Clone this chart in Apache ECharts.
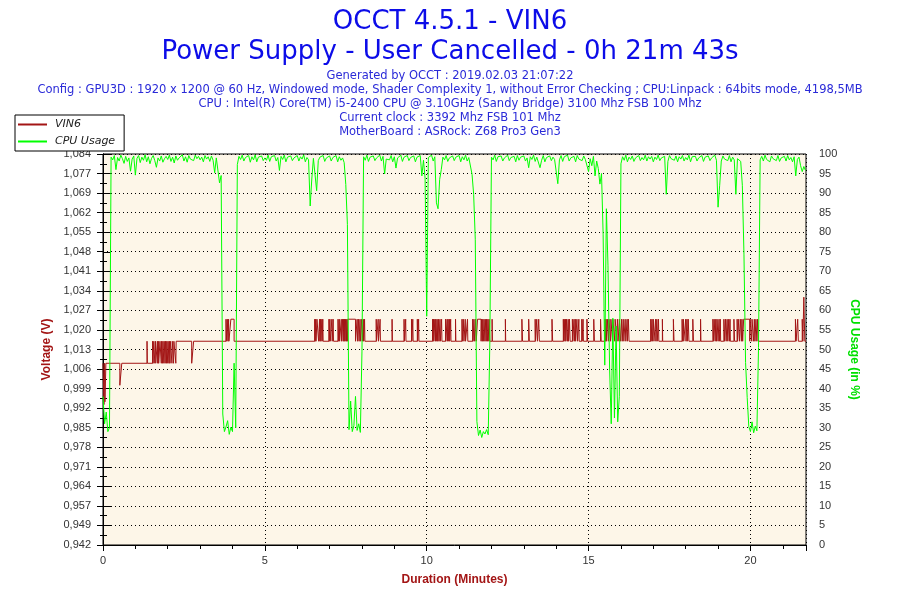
<!DOCTYPE html>
<html>
<head>
<meta charset="utf-8">
<script src="https://cdn.jsdelivr.net/npm/echarts@6/dist/echarts.min.js"></script>
<style>
html,body{margin:0;padding:0;background:#ffffff;}
#chart{width:900px;height:600px;}
</style>
</head>
<body>
<div id="chart"></div>
<script>
// ---------- texts ----------
const titleText = 'OCCT 4.5.1 - VIN6';
const subTitleText = 'Power Supply - User Cancelled - 0h 21m 43s';
const infoLines = [
  'Generated by OCCT : 2019.02.03 21:07:22',
  'Config : GPU3D : 1920 x 1200 @ 60 Hz, Windowed mode, Shader Complexity 1, without Error Checking ; CPU:Linpack : 64bits mode, 4198,5MB',
  'CPU : Intel(R) Core(TM) i5-2400 CPU @ 3.10GHz (Sandy Bridge) 3100 Mhz FSB 100 Mhz',
  'Current clock : 3392 Mhz FSB 101 Mhz',
  'MotherBoard : ASRock: Z68 Pro3 Gen3'
];
const seriesNames = ['VIN6', 'CPU Usage'];
const xAxisName = 'Duration (Minutes)';
const voltAxisName = 'Voltage (V)';
const cpuAxisName = 'CPU Usage (in %)';

// ---------- axes ----------
const durationMinutes = 21.7167;
const timeTickLabels = ['0', '5', '10', '15', '20'];
const voltMin = 0.942;
const voltMax = 1.084;
const voltTickLabels = ['0,942','0,949','0,957','0,964','0,971','0,978','0,985','0,992','0,999','1,006',
  '1,013','1,020','1,027','1,034','1,041','1,048','1,055','1,062','1,069','1,077','1,084'];
const cpuMin = 0;
const cpuMax = 100;

// ---------- VIN6: [minute, volts] change points ----------
const voltage = [
  [0,1.008],[0.03,0.993],[0.05,1.008],[0.06,0.994],[0.09,1.008],
  [0.52,1.000],[0.58,1.008],
  [1.36,1.016],[1.37,1.008],[1.53,1.016],[1.54,1.008],[1.57,1.016],[1.58,1.008],[1.62,1.016],[1.63,1.008],
  [1.68,1.016],[1.69,1.008],[1.71,1.016],[1.72,1.008],
  [1.76,1.016],[1.80,1.008],[1.81,1.016],[1.84,1.008],[1.85,1.016],[1.88,1.008],[1.89,1.016],[1.92,1.008],
  [1.93,1.016],[1.96,1.008],[1.97,1.016],[2.00,1.008],[2.01,1.016],[2.04,1.008],[2.05,1.016],[2.07,1.008],
  [2.08,1.016],[2.13,1.008],[2.14,1.016],[2.18,1.008],[2.19,1.016],[2.25,1.008],[2.26,1.016],
  [2.74,1.008],[2.80,1.016],
  [3.80,1.024],[3.81,1.016],[3.84,1.024],[3.86,1.016],[3.88,1.024],[3.89,1.016],[3.95,1.024],[4.05,1.016],
  [6.54,1.024],[6.55,1.016],[6.57,1.024],[6.58,1.016],[6.61,1.024],[6.66,1.016],[6.69,1.024],[6.70,1.016],
  [6.72,1.024],[6.73,1.016],[6.76,1.024],[6.77,1.016],[6.79,1.024],[6.80,1.016],
  [6.98,1.024],[6.99,1.016],[7.01,1.024],[7.02,1.016],[7.07,1.024],[7.08,1.016],[7.11,1.024],[7.12,1.016],
  [7.26,1.024],[7.27,1.016],[7.30,1.024],[7.31,1.016],[7.36,1.024],[7.37,1.016],
  [7.40,1.024],[7.42,1.016],[7.43,1.024],[7.45,1.016],[7.46,1.024],[7.48,1.016],[7.49,1.024],[7.52,1.016],
  [7.53,1.024],[7.55,1.016],[7.56,1.024],[7.80,1.016],
  [7.85,1.024],[7.86,1.016],[7.89,1.024],[7.91,1.016],[7.94,1.024],[7.95,1.016],[7.99,1.024],[8.01,1.016],
  [8.04,1.024],[8.05,1.016],[8.08,1.024],[8.09,1.016],
  [8.44,1.024],[8.45,1.016],[8.50,1.024],[8.51,1.016],[8.56,1.024],[8.57,1.016],
  [8.93,1.024],[8.94,1.016],
  [9.30,1.024],[9.31,1.016],[9.35,1.024],[9.36,1.016],
  [9.53,1.024],[9.54,1.016],[9.57,1.024],[9.58,1.016],
  [9.71,1.024],[9.72,1.016],[9.75,1.024],[9.76,1.016],
  [10.18,1.024],[10.19,1.016],[10.21,1.024],[10.22,1.016],[10.25,1.024],[10.27,1.016],[10.28,1.024],[10.31,1.016],
  [10.32,1.024],[10.34,1.016],[10.36,1.024],[10.38,1.016],[10.41,1.024],[10.42,1.016],[10.46,1.024],[10.47,1.016],
  [10.58,1.024],[10.59,1.016],[10.63,1.024],[10.64,1.016],[10.66,1.024],[10.68,1.016],[10.70,1.024],[10.71,1.016],
  [10.74,1.024],[10.75,1.016],[10.89,1.024],[10.90,1.016],
  [11.09,1.024],[11.10,1.016],[11.13,1.024],[11.15,1.016],[11.19,1.024],[11.20,1.016],[11.26,1.024],[11.27,1.016],
  [11.42,1.024],[11.43,1.016],[11.46,1.024],[11.48,1.016],[11.51,1.024],[11.53,1.016],
  [11.57,1.024],[11.68,1.016],[11.69,1.024],[11.72,1.016],[11.73,1.024],[11.76,1.016],[11.77,1.024],[11.80,1.016],
  [11.81,1.024],[11.84,1.016],[11.85,1.024],[11.88,1.016],[11.89,1.024],[11.92,1.016],[11.93,1.024],[11.95,1.016],
  [12.02,1.024],[12.03,1.016],
  [12.43,1.024],[12.44,1.016],
  [12.94,1.024],[12.96,1.016],
  [13.15,1.024],[13.17,1.016],
  [13.35,1.024],[13.36,1.016],[13.40,1.024],[13.42,1.016],[13.46,1.024],[13.48,1.016],
  [13.87,1.024],[13.89,1.016],
  [14.22,1.024],[14.23,1.016],[14.25,1.024],[14.27,1.016],[14.29,1.024],[14.30,1.016],[14.32,1.024],[14.35,1.016],
  [14.37,1.024],[14.38,1.016],[14.41,1.024],[14.43,1.016],
  [14.50,1.024],[14.51,1.016],[14.55,1.024],[14.56,1.016],[14.59,1.024],[14.60,1.016],[14.64,1.024],[14.66,1.016],
  [14.70,1.024],[14.71,1.016],[14.79,1.024],[14.80,1.016],[14.83,1.024],[14.84,1.016],
  [14.95,1.024],[14.97,1.016],
  [15.16,1.024],[15.18,1.016],
  [15.37,1.024],[15.39,1.016],
  [15.51,1.024],[15.52,1.016],[15.54,1.024],[15.56,1.016],[15.58,1.024],[15.62,1.016],[15.63,1.024],[15.68,1.016],
  [15.69,1.024],[15.74,1.016],[15.75,1.024],[15.81,1.016],[15.82,1.024],[15.88,1.016],[15.89,1.024],[15.94,1.016],
  [15.95,1.024],[15.99,1.016],[16.02,1.024],[16.04,1.016],[16.07,1.024],[16.09,1.016],[16.13,1.024],[16.15,1.016],
  [16.19,1.024],[16.20,1.016],[16.23,1.024],[16.25,1.016],
  [16.92,1.024],[16.93,1.016],[16.96,1.024],[16.97,1.016],[17.00,1.024],[17.02,1.016],
  [17.07,1.024],[17.08,1.016],[17.11,1.024],[17.12,1.016],[17.16,1.024],[17.17,1.016],
  [17.28,1.024],[17.29,1.016],
  [17.62,1.024],[17.64,1.016],
  [17.89,1.024],[17.90,1.016],[17.93,1.024],[17.94,1.016],
  [18.00,1.024],[18.01,1.016],[18.04,1.024],[18.05,1.016],[18.08,1.024],[18.10,1.016],
  [18.22,1.024],[18.24,1.016],[18.46,1.024],[18.47,1.016],
  [18.84,1.024],[18.86,1.016],[18.88,1.024],[18.91,1.016],[18.93,1.024],[18.95,1.016],[18.97,1.024],[19.00,1.016],
  [19.03,1.024],[19.04,1.016],[19.07,1.024],[19.08,1.016],[19.18,1.024],[19.20,1.016],[19.23,1.024],[19.25,1.016],
  [19.28,1.024],[19.30,1.016],[19.33,1.024],[19.35,1.016],[19.37,1.024],[19.38,1.016],
  [19.49,1.024],[19.51,1.016],[19.59,1.024],[19.60,1.016],
  [19.64,1.024],[19.66,1.016],[19.70,1.024],[19.72,1.016],[19.74,1.024],[19.76,1.016],
  [19.79,1.024],[19.98,1.016],[19.99,1.024],[20.04,1.016],[20.05,1.024],[20.10,1.016],[20.12,1.024],[20.14,1.016],
  [20.17,1.024],[20.20,1.016],[20.22,1.024],[20.25,1.016],
  [21.39,1.024],[21.41,1.016],[21.46,1.024],[21.48,1.016],
  [21.60,1.024],[21.62,1.016],[21.65,1.032],[21.68,1.016],[21.7167,1.016]
];

// ---------- CPU usage (%), one sample every 0.05 minute ----------
const cpuSampleMinutes = 0.05;
const cpuUsage = [
  38,31,34,29,30,99.2,98.5,99.6,96.0,99.1,98.2,99.7,98.8,97.6,99.4,98.1,99.0,95.6,98.7,99.5,
  94.6,98.9,99.6,97.8,99.2,98.4,99.8,98.0,99.3,97.5,98.9,99.6,98.3,96.6,99.0,98.2,99.5,97.9,98.8,99.4,
  98.6,99.7,98.1,99.2,97.7,99.5,98.4,99.0,98.9,99.8,98.2,99.3,97.9,99.6,98.7,99.1,98.3,99.7,98.8,99.4,
  98.5,99.2,98.0,99.6,98.7,99.3,98.1,99.5,98.4,95.2,99.0,98.6,92.6,94.5,33.5,29.0,30.2,31.8,28.3,30.1,
  29.0,46.5,30.0,97.3,99.4,98.6,99.7,98.2,99.1,98.8,99.6,97.9,99.3,98.5,99.8,98.0,99.2,98.7,99.5,98.3,
  99.0,98.4,99.7,98.1,99.3,98.8,99.6,98.2,99.1,95.8,99.4,98.6,99.7,98.0,99.2,98.9,99.5,98.3,99.0,98.7,
  99.6,98.2,99.3,98.7,99.8,98.0,99.1,98.5,86.7,93.6,98.9,99.4,90.6,98.3,99.2,98.8,99.6,98.1,99.0,98.6,
  99.5,98.2,99.1,98.7,99.6,98.0,99.3,98.4,99.0,97.8,92.2,82.0,29.5,36.8,29.0,30.5,38.0,29.3,31.0,28.8,
  49.6,99.3,98.4,99.7,98.1,99.2,98.8,99.5,98.3,99.0,98.6,99.7,98.2,99.4,94.9,98.7,99.1,98.5,99.6,98.0,
  99.3,96.4,99.0,98.5,99.7,98.1,99.2,98.8,99.6,98.3,99.1,98.6,99.5,98.0,99.2,98.7,99.6,94.4,98.4,93.8,
  58.5,99.1,98.6,99.7,98.2,99.3,87.5,86.0,93.5,96.0,99.2,98.5,99.6,98.1,99.0,98.8,99.5,98.3,99.2,98.7,
  99.6,98.0,99.3,98.5,99.7,98.2,99.1,98.8,94.8,89.7,78.2,31.6,28.0,29.4,27.5,29.0,28.4,29.5,28.2,52.0,
  99.2,98.5,99.7,98.1,99.3,98.8,99.5,98.2,99.0,98.6,99.7,98.3,99.1,98.7,99.4,98.0,99.6,98.4,99.2,98.9,
  99.5,98.2,99.0,96.5,99.3,98.6,99.7,98.1,99.2,98.8,96.5,98.4,99.6,98.0,99.1,98.7,99.5,98.3,99.2,98.6,
  99.0,92.4,98.5,99.6,98.1,99.3,98.8,99.7,98.2,99.0,98.5,99.4,98.0,99.6,98.7,99.2,98.3,99.5,98.6,99.1,
  95.5,98.8,97.0,99.4,94.4,98.2,96.3,92.3,95.0,79.5,46.0,86.0,71.4,45.0,31.0,58.0,32.5,56.0,31.5,38.0,
  97.5,99.3,98.4,99.7,98.0,99.2,98.6,99.5,98.1,99.0,98.8,99.6,98.3,99.1,98.5,99.7,98.2,99.3,98.7,99.4,
  98.0,99.2,98.6,99.7,98.3,99.0,98.5,99.4,89.7,98.1,99.6,98.8,99.2,98.4,99.5,98.0,99.3,98.7,99.6,98.2,
  99.1,98.5,99.7,98.0,99.3,98.8,99.4,98.2,99.0,98.6,99.6,98.1,99.2,98.7,99.5,98.3,99.0,98.9,99.7,98.4,
  86.4,92.0,98.2,99.5,98.7,99.1,98.3,99.6,98.0,99.2,98.5,89.7,98.8,99.3,98.1,92.0,74.4,46.7,37.7,30.3,
  29.0,31.5,28.7,30.4,29.2,50.5,98.5,99.4,98.2,99.7,98.6,99.1,98.0,99.5,98.8,99.3,98.3,99.6,98.1,99.0,
  98.7,99.4,98.2,99.6,98.5,99.1,98.0,99.3,94.4,98.6,99.2,97.0,95.5,96.8,95.8
];

// ---------- colours ----------
const titleColor = '#0c0ce8';
const infoColor = '#2a2ad8';
const voltColor = '#a31515';
const cpuColor = '#00ff00';
const cpuNameColor = '#00e000';
const plotBg = '#fdf6e8';

const cpuData = cpuUsage.map((v, i) => [i * cpuSampleMinutes, v]);
const dotted = { color: '#000', width: 1, type: [1, 3] };
const labelFont = { color: '#333', fontSize: 11, fontFamily: 'Liberation Sans' };
const nameFont = { fontSize: 12, fontWeight: 'bold', fontFamily: 'Liberation Sans' };
const bigTitle = { color: titleColor, fontSize: 26, fontWeight: 'normal', fontFamily: 'DejaVu Sans' };
const smallTitle = { color: infoColor, fontSize: 11.5, fontWeight: 'normal', fontFamily: 'DejaVu Sans' };

const titles = [
  { text: titleText, left: 'center', top: 9, padding: 0, textStyle: bigTitle },
  { text: subTitleText, left: 'center', top: 39, padding: 0, textStyle: bigTitle }
];
infoLines.forEach((line, i) => {
  titles.push({ text: line, left: 'center', top: 70.5 + i * 14, padding: 0, textStyle: smallTitle });
});

const chart = echarts.init(document.getElementById('chart'), null, { renderer: 'canvas' });
chart.setOption({
  animation: false,
  backgroundColor: '#ffffff',
  title: titles,
  legend: {
    data: seriesNames.map((n, i) => ({ name: n, icon: 'rect',
      itemStyle: { color: i === 0 ? voltColor : cpuColor, borderWidth: 0 } })),
    orient: 'vertical',
    left: 15, top: 115,
    padding: [3, 9, 3, 3],
    itemGap: 4,
    itemWidth: 29, itemHeight: 2,
    backgroundColor: '#fff',
    borderColor: '#000', borderWidth: 1, borderRadius: 0,
    textStyle: { fontStyle: 'italic', fontSize: 11, fontFamily: 'DejaVu Sans', color: '#222',
      padding: [0, 0, 0, 3], lineHeight: 13 }
  },
  grid: {
    left: 103, right: 94, top: 154, bottom: 55,
    show: true, backgroundColor: plotBg, borderColor: '#000', borderWidth: 1,
    containLabel: false, outerBoundsMode: 'none'
  },
  xAxis: [
    {
      type: 'value', min: 0, max: durationMinutes, interval: 5, position: 'bottom',
      name: xAxisName, nameLocation: 'middle', nameGap: 29,
      nameTextStyle: Object.assign({ color: voltColor }, nameFont),
      axisLine: { show: true, lineStyle: { color: '#000', width: 1 } },
      axisTick: { show: true, length: 6, lineStyle: { color: '#000' } },
      minorTick: { show: false },
      axisLabel: Object.assign({ margin: 10,
        formatter: v => { const k = Math.round(v / 5); return Math.abs(v - k * 5) < 1e-6 && k < timeTickLabels.length ? timeTickLabels[k] : ''; } }, labelFont),
      splitLine: { show: true, lineStyle: dotted }
    },
    {
      type: 'value', min: 0, max: durationMinutes, interval: 1, position: 'bottom',
      axisLine: { show: false },
      axisTick: { show: true, length: 4, lineStyle: { color: '#000' } },
      axisLabel: { show: false },
      splitLine: { show: false }
    }
  ],
  yAxis: [
    {
      type: 'value', position: 'left', min: voltMin, max: voltMax, alignTicks: true,
      name: voltAxisName, nameLocation: 'middle', nameGap: 43, nameRotate: 90,
      nameTextStyle: Object.assign({ color: voltColor }, nameFont),
      axisLine: { show: true, lineStyle: { color: '#000', width: 1 } },
      axisTick: { show: true, length: 6, lineStyle: { color: '#000' } },
      minorTick: { show: true, splitNumber: 2, length: 3, lineStyle: { color: '#000' } },
      axisLabel: Object.assign({ margin: 12,
        formatter: v => voltTickLabels[Math.round((v - voltMin) / ((voltMax - voltMin) / (voltTickLabels.length - 1)))] || '' }, labelFont),
      splitLine: { show: true, lineStyle: dotted }
    },
    {
      type: 'value', position: 'right', min: cpuMin, max: cpuMax, interval: 5,
      name: cpuAxisName, nameLocation: 'middle', nameGap: 37, nameRotate: -90,
      nameTextStyle: Object.assign({ color: cpuNameColor }, nameFont),
      axisLine: { show: true, lineStyle: { color: '#000', width: 1 } },
      axisTick: { show: true, length: 8, lineStyle: { color: '#000' } },
      minorTick: { show: true, splitNumber: 2, length: 4, lineStyle: { color: '#000' } },
      axisLabel: Object.assign({ margin: 13 }, labelFont),
      splitLine: { show: false }
    }
  ],
  series: [
    {
      name: seriesNames[0], type: 'line', xAxisIndex: 0, yAxisIndex: 0,
      data: voltage, step: 'end', symbol: 'none', showSymbol: false,
      lineStyle: { color: voltColor, width: 1 }, itemStyle: { color: voltColor },
      z: 3
    },
    {
      name: seriesNames[1], type: 'line', xAxisIndex: 0, yAxisIndex: 1,
      data: cpuData, symbol: 'none', showSymbol: false,
      lineStyle: { color: cpuColor, width: 1 }, itemStyle: { color: cpuColor },
      z: 4
    }
  ]
});
</script>
</body>
</html>
